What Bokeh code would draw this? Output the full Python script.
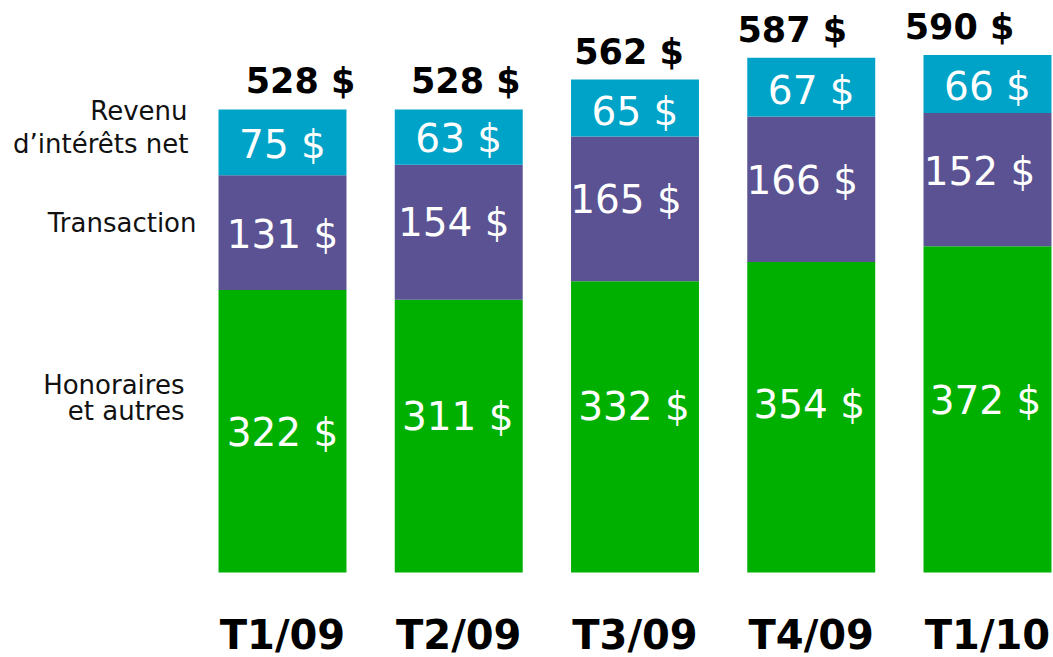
import numpy as np
from bokeh.plotting import figure
from bokeh.models import Range1d, ColumnDataSource
from bokeh.core.properties import value
from bokeh.embed import file_html
from bokeh.resources import INLINE

# ---- data ----
quarters = ["T1/09", "T2/09", "T3/09", "T4/09", "T1/10"]
honoraires = [322, 311, 332, 354, 372]
transaction = [131, 154, 165, 166, 152]
revenu_interets = [75, 63, 65, 67, 66]
totals = [528, 528, 562, 587, 590]
series_names = ["Honoraires\net autres", "Transaction", "Revenu\nd\u2019int\u00e9r\u00eats net"]
series_colors = ["#00B000", "#5A5292", "#00A3C8"]

# ---- layout (pixel nudges of the hand-placed labels) ----
W, H = 1053, 657
BAR_W = 0.726
label_dy = [[1, -20, -20, -13, -9],     # honoraires
            [2, -10, -9, -9, -8],       # transaction
            [2, 1, 3, 3, 3]]            # revenu d'intérêts
label_dx = [[0, -1, -1, -2, -2],
            [0, -5, -9, -9, -8],
            [0, 0, 0, 0, 0]]
total_dx = [18, 7, -6, -19, -28]

p = figure(width=W, height=H, output_backend="svg", toolbar_location=None,
           x_range=Range1d(-1.6, 4.3745), y_range=Range1d(-96.9, 652.2),
           x_axis_type=None, y_axis_type=None, min_border=0,
           outline_line_color=None)
p.xgrid.visible = False
p.ygrid.visible = False
p.background_fill_color = "white"

xs = np.arange(len(quarters))
series = [np.array(honoraires), np.array(transaction), np.array(revenu_interets)]
bottom = np.zeros(len(quarters))
for k, (vals, col) in enumerate(zip(series, series_colors)):
    top = bottom + vals
    src = ColumnDataSource(dict(x=xs, bottom=bottom, top=top,
                                ymid=(bottom + top) / 2,
                                dx=label_dx[k], dy=label_dy[k],
                                lab=[f"{v} $" for v in vals]))
    p.vbar(x="x", bottom="bottom", top="top", width=BAR_W, source=src,
           fill_color=col, line_color=None)
    p.text(x="x", y="ymid", text="lab", source=src, x_offset="dx", y_offset="dy",
           text_color="white", text_font=value("DejaVu Sans"), text_font_size="39px",
           text_align="center", text_baseline="middle")
    bottom = top

# totals above bars
tsrc = ColumnDataSource(dict(x=xs, y=totals, lab=[f"{t} $" for t in totals], dx=total_dx))
p.text(x="x", y="y", text="lab", source=tsrc, x_offset="dx", y_offset=-28,
       text_color="black", text_font=value("DejaVu Sans"), text_font_style="bold",
       text_font_size="35px", text_align="center", text_baseline="middle")

# category labels
csrc = ColumnDataSource(dict(x=xs, y=[0] * len(xs), lab=quarters))
p.text(x="x", y="y", text="lab", source=csrc, y_offset=62,
       text_color="black", text_font=value("DejaVu Sans"), text_font_style="bold",
       text_font_size="40px", text_align="center", text_baseline="middle")

# series labels on the left
left_lines = [series_names[2].split("\n")[0], series_names[2].split("\n")[1],
              series_names[1],
              series_names[0].split("\n")[0], series_names[0].split("\n")[1]]
left_y = [526, 489, 399, 214, 184]
left_dx = [-95, -94, -86, -98, -98]
lsrc = ColumnDataSource(dict(x=[0] * len(left_lines), y=left_y, lab=left_lines, dx=left_dx))
p.text(x="x", y="y", text="lab", source=lsrc, x_offset="dx",
       text_color="#111111", text_font=value("DejaVu Sans"),
       text_font_size="26px", text_align="right", text_baseline="middle")

open("out.html", "w").write(file_html(p, INLINE))
